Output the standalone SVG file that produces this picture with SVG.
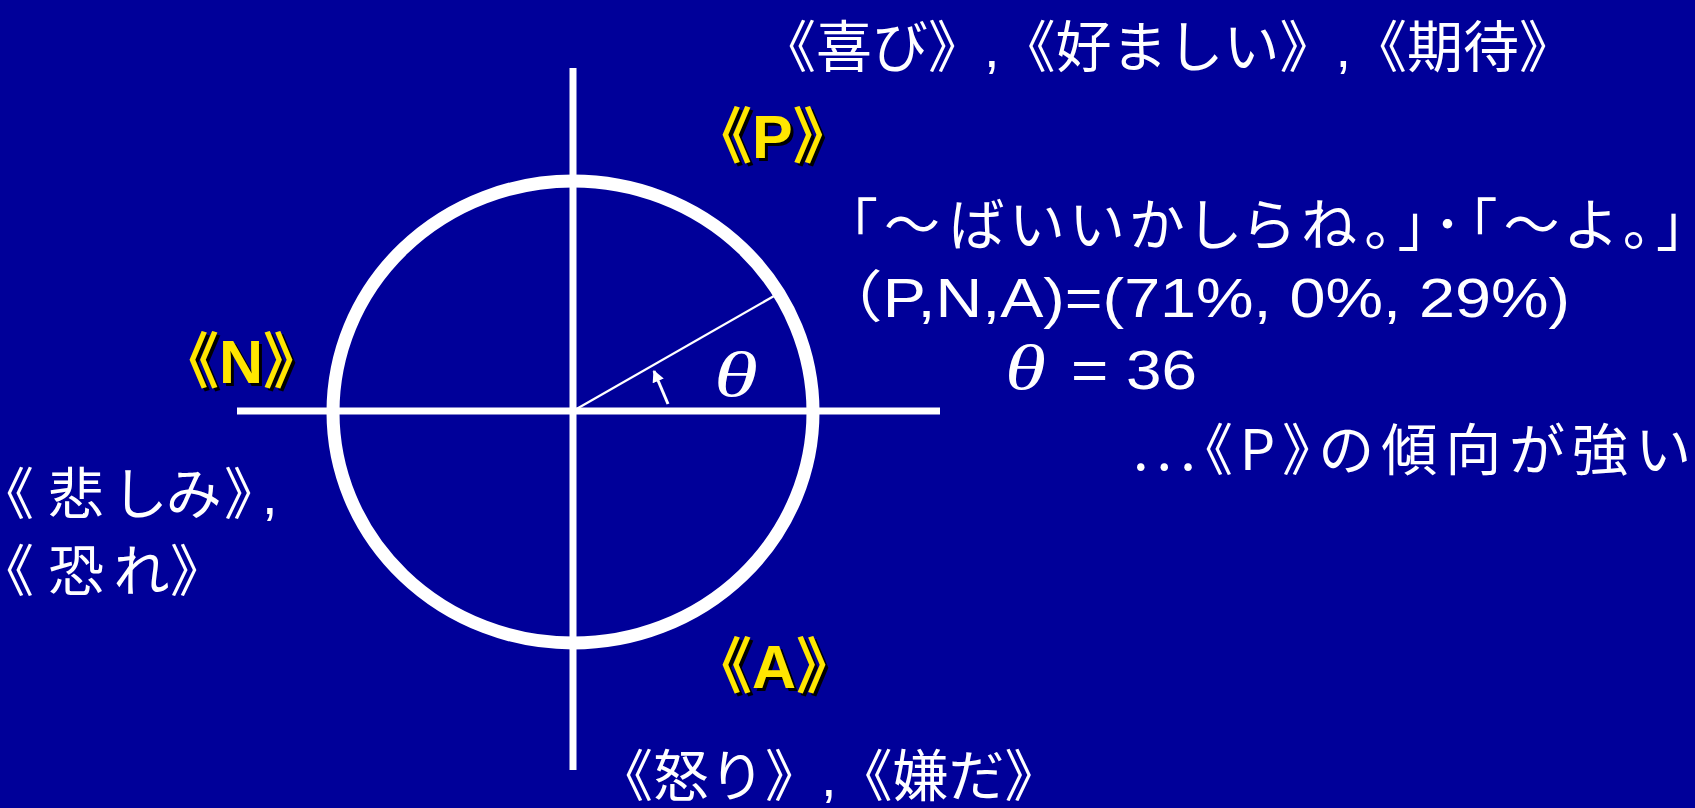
<svg xmlns="http://www.w3.org/2000/svg" width="1695" height="808" viewBox="0 0 1695 808">
<defs>
<style>
.t{font-family:"Liberation Sans","Noto Sans CJK JP",sans-serif;fill:#ffffff;font-size:56px}
.j{font-family:"Noto Sans CJK JP",sans-serif}
.p{font-feature-settings:"palt"}
.y{font-family:"Liberation Sans","Noto Sans CJK JP",sans-serif;fill:#ffe600;font-size:61px;font-weight:bold}
.sh{fill:#000000}
.th{font-family:"Liberation Serif",serif;font-style:italic;fill:#ffffff;font-size:64px}
.ax{stroke:#ffffff;stroke-width:7;fill:none}
</style>
<marker id="ah" viewBox="0 0 10 10" refX="9" refY="5" markerWidth="4" markerHeight="4" orient="auto" markerUnits="strokeWidth">
<path d="M0,0 L10,5 L0,10 z" fill="#ffffff"/>
</marker>
</defs>
<rect x="0" y="0" width="1695" height="808" fill="#000099"/>
<g id="connectors">
<line class="ax" x1="573" y1="68" x2="573" y2="770"/>
<line class="ax" x1="237" y1="411" x2="940" y2="411"/>
<ellipse cx="573" cy="412" rx="240" ry="231" fill="none" stroke="#ffffff" stroke-width="13"/>
<line x1="573" y1="411" x2="774" y2="296" stroke="#ffffff" stroke-width="2.2"/>
<line x1="668" y1="404" x2="654" y2="371" stroke="#ffffff" stroke-width="3" marker-end="url(#ah)"/>
</g>
<g id="theta">
<text class="th" x="714" y="396" textLength="44" lengthAdjust="spacingAndGlyphs">θ</text>
</g>
<g id="label-top">
<text class="t" x="760" y="67">《喜び》,《好ましい》,《期待》</text>
</g>
<g id="node-P">
<text class="y sh" x="694" y="161">《P》</text>
<text class="y" x="691" y="158">《P》</text>
</g>
<g id="node-N">
<text class="y sh" x="161" y="386">《N》</text>
<text class="y" x="158" y="383">《N》</text>
</g>
<g id="node-A">
<text class="y sh" x="694" y="691">《A》</text>
<text class="y" x="691" y="688">《A》</text>
</g>
<g id="label-left">
<text class="t p" x="5 48 116 166 225 262" y="514">《悲しみ》,</text>
<text class="t p" x="5 48 113 171" y="591">《恐れ》</text>
</g>
<g id="label-bottom">
<text class="t" x="597" y="796">《怒り》,《嫌だ》</text>
</g>
<g id="info">
<text class="t p" x="849" y="245" font-size="60" textLength="836" lengthAdjust="spacing">「～ばいいかしらね。」･「～よ。」</text>
<text class="t" x="818" y="317" font-size="58" textLength="752" lengthAdjust="spacingAndGlyphs">（P,N,A)=(71%, 0%, 29%)</text>
<text class="th" x="1005" y="389" font-size="62" textLength="41" lengthAdjust="spacingAndGlyphs">θ</text>
<text class="t" x="1071" y="389" font-size="58" textLength="126" lengthAdjust="spacingAndGlyphs">= 36</text>
<text class="t j p" x="1133" y="470" font-size="60" textLength="556" lengthAdjust="spacing">...《P》の傾向が強い</text>
</g>
</svg>
